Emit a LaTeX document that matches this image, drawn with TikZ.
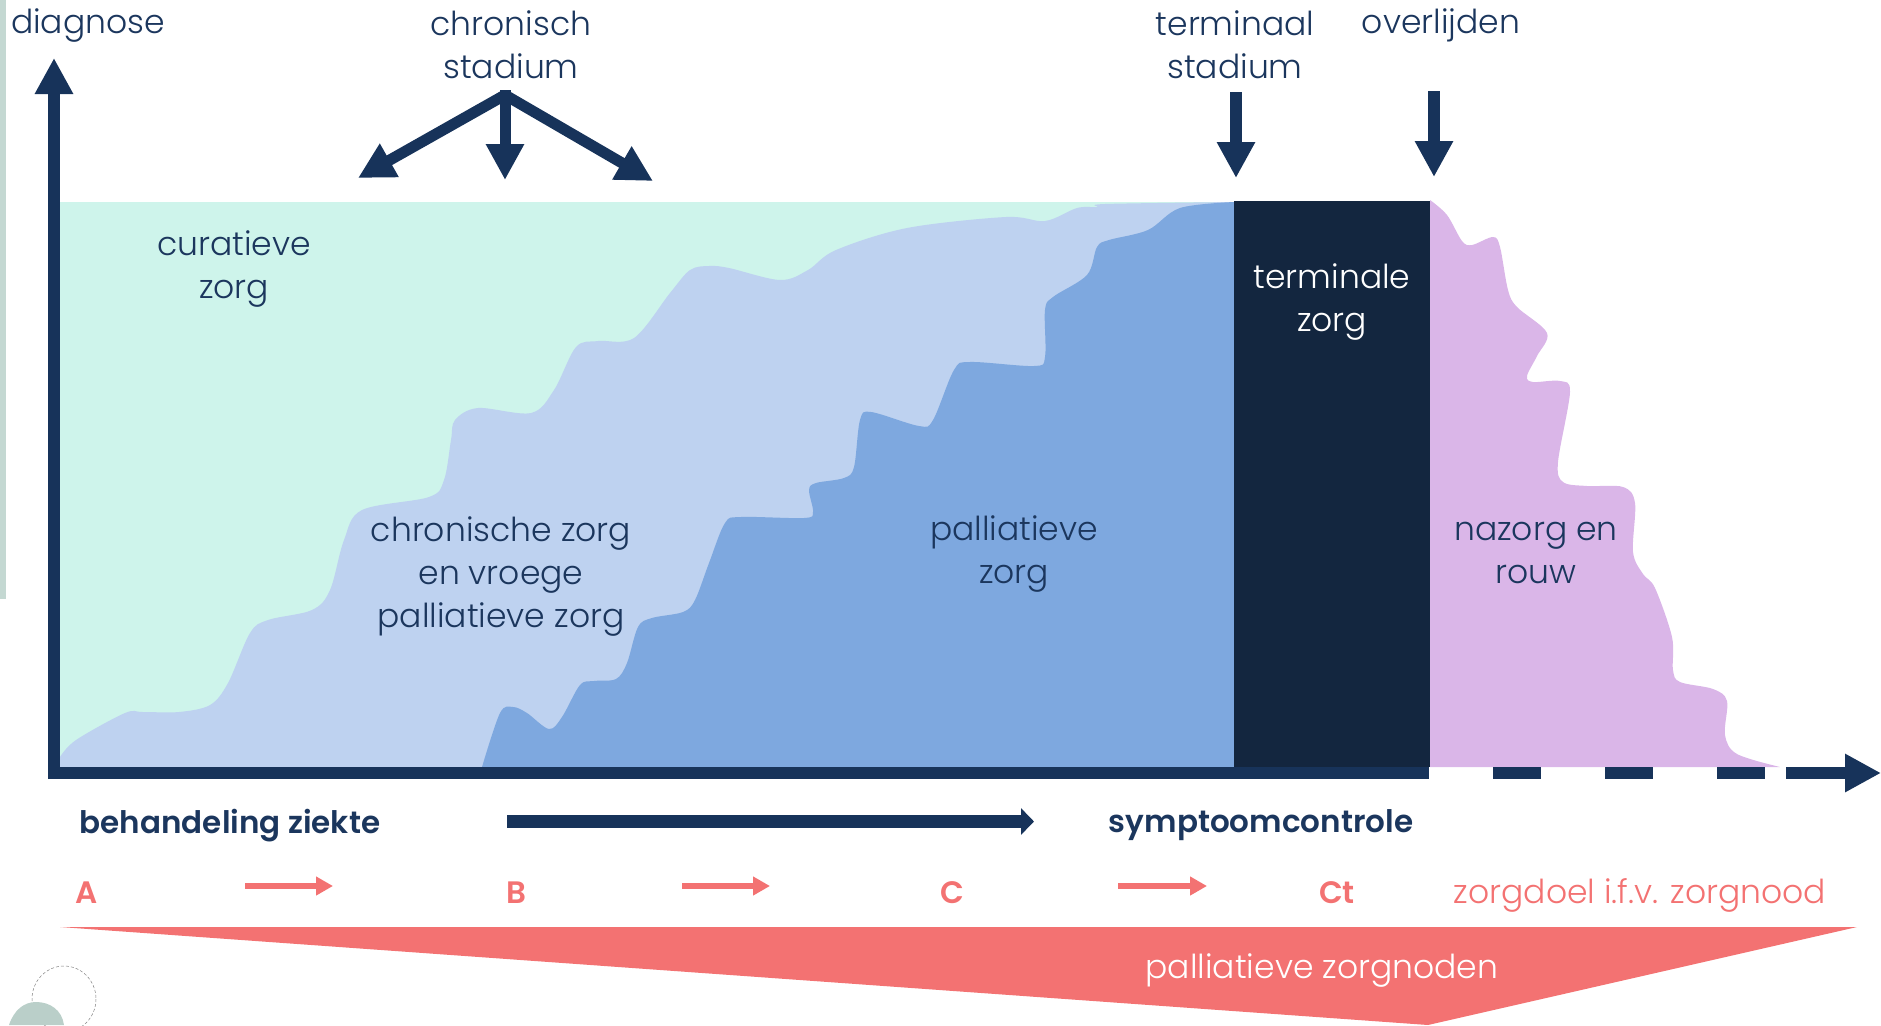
\documentclass[tikz,border=0pt]{standalone}
\usepackage{fontspec}
\setmainfont{Poppins}[UprightFont=* Light,BoldFont=* SemiBold]
\usetikzlibrary{arrows.meta}
\definecolor{navy}{HTML}{17335A}
\definecolor{txt}{HTML}{1B365D}
\definecolor{dark}{HTML}{13263F}
\definecolor{cgreen}{HTML}{CEF4EB}
\definecolor{clight}{HTML}{BED2F0}
\definecolor{cmid}{HTML}{7EA8DF}
\definecolor{cpurple}{HTML}{DAB6E8}
\definecolor{cred}{HTML}{F37272}
\definecolor{cstrip}{HTML}{C4D8D2}
\definecolor{cteal}{HTML}{BACFC9}
\tikzset{
  lbl/.style={anchor=base,inner sep=0pt,align=center,text=txt,font=\fontsize{33}{43}\selectfont},
  bld/.style={anchor=base,inner sep=0pt,text=txt,font=\fontsize{31}{40}\selectfont\bfseries},
  letter/.style={anchor=base,inner sep=0pt,text=cred,font=\fontsize{31}{40}\selectfont\bfseries},
  bigarrow/.style={navy,line width=11pt,-{Triangle[length=36pt,width=36pt]}},
  midarrow/.style={navy,line width=13pt,-{Triangle[length=13pt,width=26pt]}},
  redarrow/.style={cred,line width=6pt,-{Triangle[length=17pt,width=18pt]}},
  dashbar/.style={navy,line width=12pt},
}
\begin{document}
\begin{tikzpicture}[x=1pt,y=-1pt]
\path[use as bounding box] (0,0) rectangle (1881,1025);
\begin{scope}
\clip (0,0) rectangle (1881,1025);
\fill[cstrip] (0,0) rectangle (6,599);
% decoration bottom left
\draw[gray,line width=.5pt,densely dashed] (64,999) ellipse (32 and 33);
\fill[cteal] (9,1025) .. controls (14,1010) and (24,1002) .. (36,1002) .. controls (50,1002) and (62,1010) .. (64,1025) -- cycle;
% areas
\fill[cgreen] (60,201.7) rectangle (1234,767);
\fill[clight] (60,767) -- plot[smooth,tension=.55] coordinates {(60,757) (76,740) (125,713) (143,712) (179,712) (210,705) (228,683) (250,633) (268,620) (312,610) (330,590) (344,540) (362,510) (429,497) (444,480) (451,440) (455,420) (478,408) (531,413) (554,390) (576,347) (598,341) (634,338) (670,293) (690,270) (709,266) (729,268) (780,280) (808,270) (836,250) (907,228) (1006,217) (1045,221) (1077,208) (1097,207) (1105,204) (1234,202)} -- (1234,767) -- cycle;
\fill[cmid] (482,767) -- plot[smooth,tension=.55] coordinates {(482,767) (500,713) (513,707) (527,713) (549,729) (562,717) (580,685) (594,681) (616,679) (627,663) (638,627) (652,618) (683,612) (695,600) (709,563) (725,523) (741,517) (804,518) (813,512) (809,490) (816,483) (844,478) (854,467) (860,420) (871,412) (919,426) (933,420) (954,370) (970,362) (1034,366) (1045,357) (1045,310) (1053,297) (1087,275) (1097,247) (1109,240) (1148,230) (1180,208) (1234,202)} -- (1234,767) -- cycle;
\fill[dark] (1234,201) rectangle (1430,767);
\fill[cpurple] (1430,767) -- plot[smooth,tension=.55] coordinates {(1430,200) (1447,215) (1462,241) (1472,245) (1493,237) (1500,247) (1508,290) (1517,307) (1547,333) (1537,356) (1527,376) (1533,382) (1560,381) (1570,392) (1558,462) (1563,482) (1587,486) (1623,487) (1635,503) (1633,552) (1643,574) (1655,588) (1672,637) (1673,670) (1680,682) (1713,689) (1727,701) (1725,735) (1737,754) (1780,767)} -- cycle;
% red wedge
\coordinate (wl) at (60,927); \coordinate (wr) at (1857,927); \coordinate (wb) at (1428,1025);
\fill[cred] (wl) -- (wr) -- (wb) -- cycle;
\end{scope}
% axes
\coordinate (o) at (48,773); \coordinate (ytop) at (54,58); \coordinate (ybot) at (54,779);
\coordinate (xend) at (1429,773);
\draw[navy,line width=12pt,-{Triangle[length=36pt,width=36pt]}] (ybot) -- (ytop);
\draw[dashbar] (o) -- (xend);
\coordinate (d1a) at (1493,773); \coordinate (d1b) at (1541,773);
\coordinate (d2a) at (1605,773); \coordinate (d2b) at (1653,773);
\coordinate (d3a) at (1717,773); \coordinate (d3b) at (1765,773);
\coordinate (d4a) at (1786,773); \coordinate (d4b) at (1881,773);
\draw[dashbar] (d1a) -- (d1b);
\draw[dashbar] (d2a) -- (d2b);
\draw[dashbar] (d3a) -- (d3b);
\draw[navy,line width=12pt,-{Triangle[length=36pt,width=36pt]}] (d4a) -- (d4b);
% top arrows
\coordinate (apex) at (505,95); \coordinate (apexc) at (505,90);
\coordinate (tl) at (358,178); \coordinate (tc) at (505,180); \coordinate (tr) at (653,181);
\draw[bigarrow] (apex) -- (tl);
\draw[bigarrow] (apexc) -- (tc);
\draw[bigarrow] (apex) -- (tr);
\coordinate (ta) at (1236,92); \coordinate (tb) at (1236,178);
\coordinate (oa) at (1434,91); \coordinate (ob) at (1434,177);
\draw[bigarrow,line width=12pt] (ta) -- (tb);
\draw[bigarrow,line width=12pt] (oa) -- (ob);
% middle arrow
\coordinate (ma) at (507,821.5); \coordinate (mb) at (1034,821.5);
\draw[midarrow] (ma) -- (mb);
% red arrows
\coordinate (r1a) at (245,886); \coordinate (r1b) at (333,886);
\coordinate (r2a) at (682,886); \coordinate (r2b) at (770,886);
\coordinate (r3a) at (1118,886); \coordinate (r3b) at (1207,886);
\draw[redarrow] (r1a) -- (r1b);
\draw[redarrow] (r2a) -- (r2b);
\draw[redarrow] (r3a) -- (r3b);
% labels
\node[lbl] (diag) at (88,34) {diagnose};
\node[lbl] (chr) at (511,78) {chronisch\\stadium};
\node[lbl] (term) at (1235,78) {terminaal\\stadium};
\node[lbl] (over) at (1441,34) {overlijden};
\node[lbl] (cur) at (234,298) {curatieve\\zorg};
\node[lbl] (chz) at (501,627) {chronische zorg\\en vroege\\palliatieve zorg};
\node[lbl] (pal) at (1014,583) {palliatieve\\zorg};
\node[lbl,text=white] (tz) at (1332,331) {terminale\\zorg};
\node[lbl] (naz) at (1536,583) {nazorg en\\rouw};
\node[bld] (beh) at (230,833) {behandeling ziekte};
\node[bld] (sym) at (1261,832) {symptoomcontrole};
\node[letter] (la) at (87,903) {A};
\node[letter] (lb) at (516,903) {B};
\node[letter] (lc) at (952,903) {C};
\node[letter] (lct) at (1337,903) {Ct};
\node[lbl,text=cred] (zd) at (1640,903) {zorgdoel i.f.v. zorgnood};
\node[lbl,text=white] (pz) at (1322,978) {palliatieve zorgnoden};
\end{tikzpicture}
\end{document}
